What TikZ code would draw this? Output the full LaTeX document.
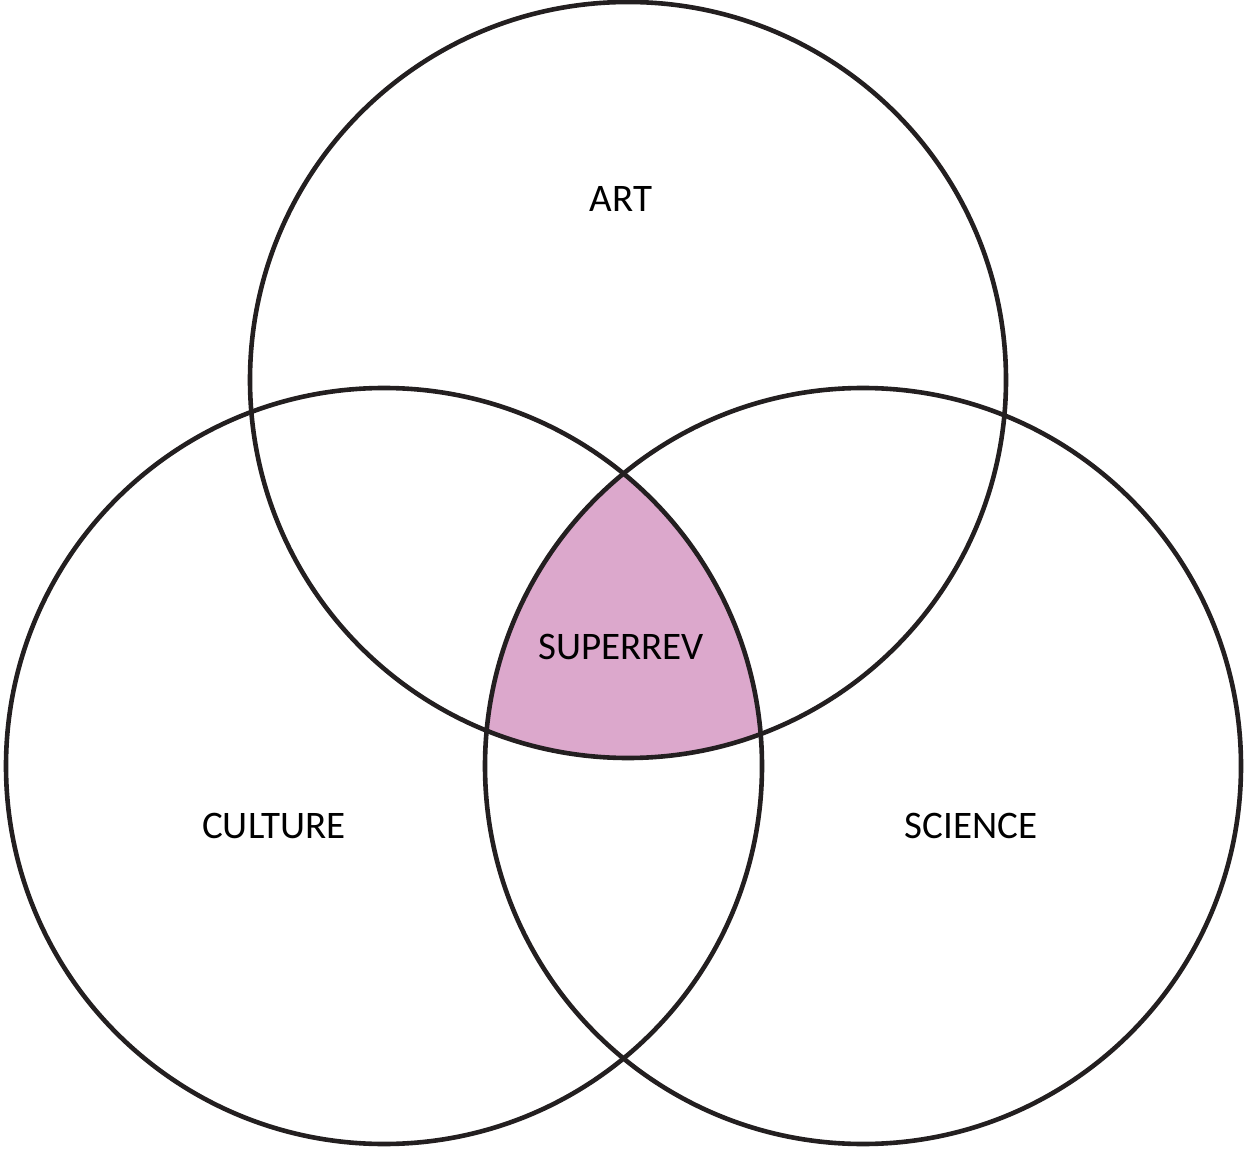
\documentclass[tikz,border=0pt]{standalone}
\usepackage{fontspec}
\setmainfont{Carlito}
\usepackage{tikz}
\usetikzlibrary{positioning}
\definecolor{inkRing}{HTML}{231F20}
\definecolor{revPink}{HTML}{DCA8CC}
\tikzset{
  ring/.style={draw=inkRing, line width=2.3pt},
  setlabel/.style={font=\fontsize{19.5}{22}\selectfont, text=black, inner sep=0pt},
}

\begin{document}
\begin{tikzpicture}[x=0.5pt, y=-0.5pt]
    \useasboundingbox (0,0) rectangle (1247,1149);
    % centres of the three sets
    \coordinate (artC) at (628,380);
    \coordinate (culC) at (384,766);
    \coordinate (sciC) at (863,766);
    % shaded triple overlap
    \begin{scope}
      \clip (artC) circle[radius=378];
      \clip (culC) circle[radius=378];
      \fill[revPink] (sciC) circle[radius=378];
    \end{scope}
    \draw[ring] (artC) circle[radius=378];
    \draw[ring] (culC) circle[radius=378];
    \draw[ring] (sciC) circle[radius=378];
    \node[setlabel] (art) at (621,199) {ART};
    \node[setlabel] (rev) at (621,647) {SUPERREV};
    \node[setlabel] (culture) at (274,826) {CULTURE};
    \node[setlabel] (science) at (971,826) {SCIENCE};
  \end{tikzpicture}
\end{document}
